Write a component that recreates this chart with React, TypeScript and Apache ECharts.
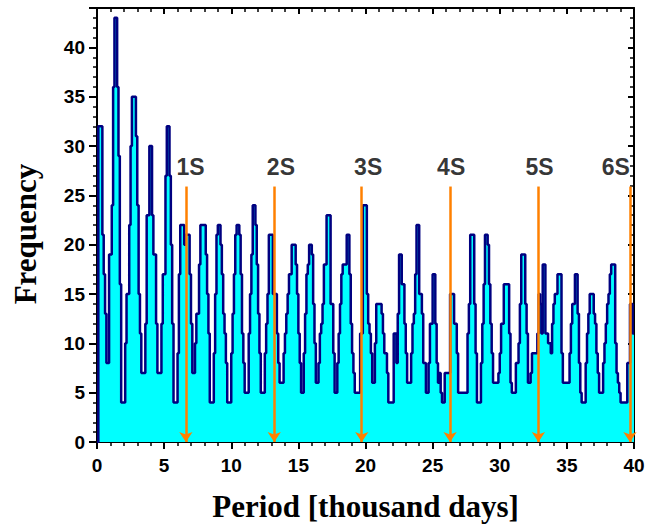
import React, { useEffect, useRef } from "react";
import * as echarts from "echarts";

// Histogram of periods, one bin per 0.1 thousand days (0 .. 40).
const BIN_WIDTH = 0.1;
const PERIOD_MAX = 40;
const FREQUENCY_MAX = 44;

// Counts per bin, one row per thousand days.
const frequencyCounts: number[] = [
  0, 32, 32, 32, 21, 17, 13, 8, 8, 19,
  19, 24, 36, 43, 43, 36, 29, 16, 4, 4,
  4, 10, 15, 15, 22, 30, 35, 35, 35, 31,
  24, 15, 11, 7, 7, 7, 12, 23, 23, 30,
  30, 23, 19, 19, 12, 7, 7, 7, 12, 17,
  17, 27, 32, 32, 27, 20, 12, 4, 4, 4,
  9, 17, 22, 22, 22, 20, 21, 21, 21, 17,
  12, 7, 7, 10, 13, 13, 18, 22, 22, 22,
  22, 19, 15, 11, 4, 4, 4, 9, 15, 21,
  22, 22, 20, 17, 13, 11, 8, 4, 4, 4,
  9, 13, 17, 21, 22, 22, 21, 17, 11, 8,
  5, 5, 5, 11, 15, 19, 24, 24, 22, 18,
  13, 9, 5, 5, 5, 9, 12, 15, 21, 21,
  21, 15, 15, 15, 11, 8, 6, 6, 6, 9,
  11, 13, 15, 17, 17, 20, 20, 20, 18, 15,
  11, 8, 5, 5, 9, 13, 17, 18, 20, 20,
  19, 14, 10, 6, 6, 8, 11, 12, 14, 18,
  18, 23, 23, 23, 14, 14, 9, 5, 5, 8,
  11, 14, 17, 18, 18, 18, 21, 21, 17, 12,
  9, 7, 5, 5, 5, 5, 11, 11, 24, 24,
  24, 15, 12, 11, 9, 6, 6, 10, 14, 14,
  14, 14, 13, 11, 9, 9, 7, 4, 4, 4,
  4, 11, 11, 8, 13, 19, 19, 16, 16, 12,
  9, 6, 6, 6, 9, 12, 13, 17, 22, 22,
  15, 15, 13, 8, 8, 5, 5, 8, 12, 12,
  17, 17, 12, 8, 6, 7, 5, 4, 4, 7,
  7, 7, 7, 15, 15, 15, 12, 12, 9, 5,
  5, 5, 5, 5, 5, 5, 11, 14, 21, 21,
  21, 14, 9, 4, 4, 4, 8, 12, 16, 21,
  21, 20, 16, 12, 9, 6, 6, 6, 6, 7,
  9, 12, 12, 16, 16, 16, 16, 11, 6, 5,
  5, 5, 8, 8, 10, 14, 19, 19, 19, 14,
  11, 6, 6, 7, 9, 9, 9, 9, 11, 15,
  14, 11, 18, 18, 11, 11, 10, 10, 9, 12,
  14, 15, 15, 17, 17, 17, 9, 6, 6, 6,
  6, 6, 9, 12, 14, 14, 17, 17, 13, 8,
  5, 4, 4, 4, 8, 11, 13, 15, 15, 15,
  13, 12, 9, 7, 5, 5, 5, 8, 10, 12,
  14, 15, 17, 18, 18, 18, 10, 7, 6, 5,
  4, 4, 4, 4, 4, 8, 8, 14, 14, 11,
];

// Harmonics of the fundamental period S.
const harmonicNames = ["1S", "2S", "3S", "4S", "5S", "6S"];
const harmonicPeriods = [6.62, 13.2, 19.72, 26.3, 32.88, 39.7];
const harmonicLabelPeriods = [6.97, 13.7, 20.2, 26.38, 32.96, 38.65];
const ARROW_TOP = 25.9;
const LABEL_LEVEL = 27.85;

const LABEL_FONT = "'Liberation Sans', Arial, sans-serif";
const NAME_FONT = "'Liberation Serif', 'Times New Roman', serif";

function frameAxis(position: string, min: number, max: number) {
  return {
    type: "value",
    position,
    min,
    max,
    interval: 5,
    axisLine: { show: true, onZero: false, lineStyle: { color: "#000", width: 2 } },
    axisTick: { show: true, inside: true, length: 6, lineStyle: { color: "#000", width: 2 } },
    minorTick: { show: true, splitNumber: 5, length: 4, lineStyle: { color: "#000", width: 1.5 } },
    splitLine: { show: false },
    minorSplitLine: { show: false },
    axisLabel: { show: false },
  };
}

export default function App() {
  const ref = useRef<HTMLDivElement>(null);

  useEffect(() => {
    if (!ref.current) return;
    const chart = echarts.init(ref.current, undefined, { renderer: "svg" });

    const points: number[][] = frequencyCounts.map((c, i) => [
      Math.round(i * BIN_WIDTH * 10) / 10,
      c,
    ]);
    points.push([PERIOD_MAX, frequencyCounts[frequencyCounts.length - 1]]);

    const labelStyle = {
      fontFamily: LABEL_FONT,
      fontWeight: "bold",
      fontSize: 19,
      color: "#000",
    };
    const nameStyle = {
      fontFamily: NAME_FONT,
      fontWeight: "bold",
      fontSize: 31,
      color: "#000",
    };

    chart.setOption({
      animation: false,
      backgroundColor: "#fff",
      grid: { left: 97, right: 13, top: 8, bottom: 88, outerBoundsMode: "none" },
      xAxis: [
        {
          type: "value",
          position: "bottom",
          min: 0,
          max: PERIOD_MAX,
          interval: 5,
          axisLine: { show: true, onZero: false, lineStyle: { color: "#000", width: 2 } },
          axisTick: { show: true, inside: false, length: 7, lineStyle: { color: "#000", width: 2 } },
          minorTick: { show: true, splitNumber: 5, length: 4, lineStyle: { color: "#000", width: 1.5 } },
          splitLine: { show: false },
          axisLabel: { ...labelStyle, margin: 14 },
          name: "Period [thousand days]",
          nameLocation: "middle",
          nameGap: 49,
          nameTextStyle: nameStyle,
        },
        frameAxis("top", 0, PERIOD_MAX),
      ],
      yAxis: [
        {
          type: "value",
          position: "left",
          min: 0,
          max: FREQUENCY_MAX,
          interval: 5,
          axisLine: { show: true, onZero: false, lineStyle: { color: "#000", width: 2 } },
          axisTick: { show: true, inside: false, length: 8, lineStyle: { color: "#000", width: 2 } },
          minorTick: { show: true, splitNumber: 5, length: 4, lineStyle: { color: "#000", width: 1.5 } },
          splitLine: { show: false },
          axisLabel: { ...labelStyle, margin: 12, showMaxLabel: false },
          name: "Frequency",
          nameLocation: "middle",
          nameGap: 56,
          nameRotate: 90,
          // extra room on the reading end nudges the title a little lower
          nameTextStyle: { ...nameStyle, padding: [0, 18, 0, 0] },
        },
        frameAxis("right", 0, FREQUENCY_MAX),
      ],
      series: [
        {
          type: "line",
          xAxisIndex: 0,
          yAxisIndex: 0,
          step: "end",
          symbol: "none",
          data: points,
          lineStyle: { color: "#000080", width: 2.5 },
          areaStyle: { color: "#00FFFF", opacity: 1 },
          markLine: {
            silent: true,
            symbol: ["none", "arrow"],
            symbolSize: 10,
            label: { show: false },
            lineStyle: { color: "#FF8000", width: 2.5, type: "solid" },
            data: harmonicPeriods.map((p) => [
              { coord: [p, ARROW_TOP] },
              { coord: [p, 0] },
            ]),
          },
        },
        {
          type: "scatter",
          xAxisIndex: 0,
          yAxisIndex: 0,
          symbolSize: 1,
          itemStyle: { color: "rgba(0,0,0,0)" },
          silent: true,
          data: harmonicNames.map((name, i) => ({
            name,
            value: [harmonicLabelPeriods[i], LABEL_LEVEL],
          })),
          label: {
            show: true,
            position: "inside",
            formatter: "{b}",
            fontFamily: LABEL_FONT,
            fontWeight: "bold",
            fontSize: 23,
            color: "#000",
          },
        },
      ],
    });

    return () => chart.dispose();
  }, []);

  return (
    <div
      ref={ref}
      style={{ position: "fixed", left: 0, top: 0, width: 647, height: 530, background: "#fff" }}
    />
  );
}
